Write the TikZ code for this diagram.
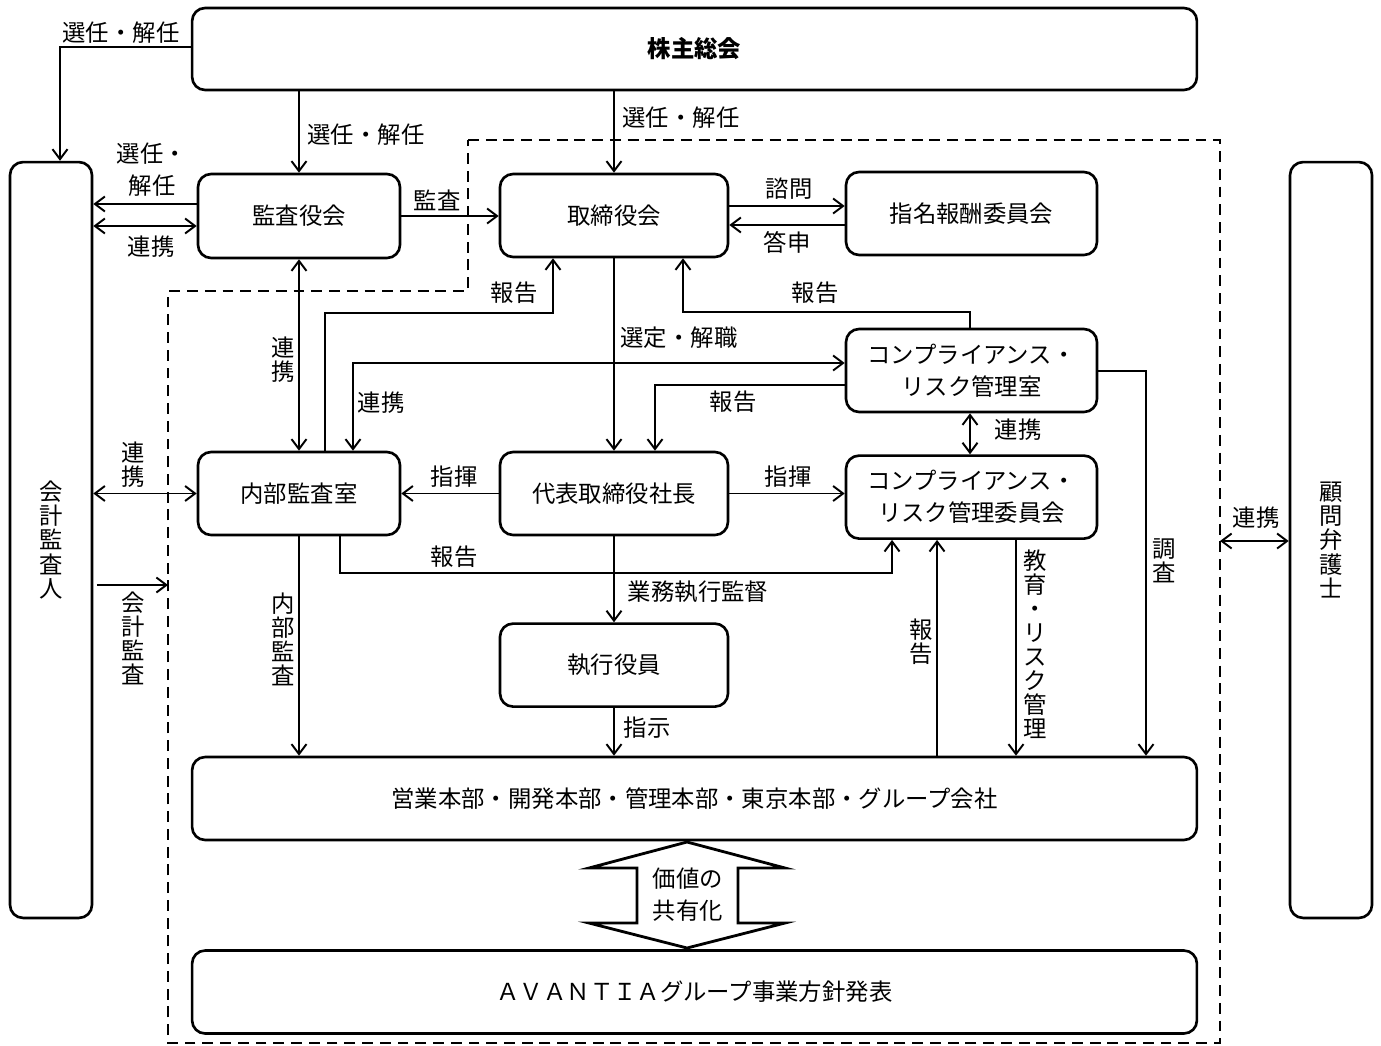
\documentclass[tikz,border=0pt]{standalone}
\usepackage{fontspec}
\newfontfamily\jp{Noto Sans CJK JP}
\usetikzlibrary{arrows.meta}
\usetikzlibrary{positioning}

\newcommand\bxfont{\jp\fontsize{13.3}{18.2}\selectfont}
\newcommand\vtfont{\jp\fontsize{13.3}{13.7}\selectfont}

\tikzset{
  box/.style={rectangle,rounded corners=0.26cm,draw=black,line width=1.5pt,
    font=\bxfont,align=center,inner sep=0pt,minimum height=1.66cm},
  lbl/.style={font=\bxfont,align=center,inner sep=0pt},
  vlbl/.style={font=\vtfont,align=center,inner sep=0pt},
  conn/.style={draw=black,line width=1.1pt},
  bound/.style={draw=black,line width=1.3pt,dash pattern=on 6.2pt off 3.9pt}
}

\begin{document}
\begin{tikzpicture}[x=0.02cm,y=-0.02cm,>={Straight Barb[length=0.2cm,width=0.3cm]}]
\useasboundingbox (0,0) rectangle (1381,1045);

% dashed frame
\draw[bound] (468,140) -- (1220,140) -- (1220,1043) -- (168,1043) -- (168,291) -- (468,291) -- cycle;
\coordinate (bdL) at (168,585);
\coordinate (bdR) at (1220,541);

% boxes
\node[box,font=\jp\bfseries\fontsize{13.3}{18.2}\selectfont,minimum width=20.1cm,minimum height=1.64cm] (soukai) at (694.5,49) {株主総会};
\node[box,font=\vtfont,minimum width=1.64cm,minimum height=15.12cm] (kaikei) at (51,540) {会\\計\\監\\査\\人};
\node[box,font=\vtfont,minimum width=1.64cm,minimum height=15.12cm] (komon) at (1331,540) {顧\\問\\弁\\護\\士};
\node[box,minimum width=4.04cm,minimum height=1.68cm] (kansa) at (299,216) {監査役会};
\node[box,minimum width=4.56cm] (board) at (614,215.5) {取締役会};
\node[box,minimum width=5.02cm] (shimei) at (971.5,213.5) {指名報酬委員会};
\node[box,minimum width=5.02cm] (riskroom) at (971.5,370.5) {コンプライアンス・\\リスク管理室};
\node[box,minimum width=5.02cm,below=0.82cm of riskroom] (riskcom) {コンプライアンス・\\リスク管理委員会};
\node[box,minimum width=4.04cm] (naibu) at (299,493.5) {内部監査室};
\node[box,minimum width=4.56cm] (daihyo) at (614,493.5) {代表取締役社長};
\node[box,minimum width=4.56cm,below=1.72cm of daihyo] (shikko) {執行役員};
\node[box,minimum width=20.1cm] (eigyo) at (694.5,798.5) {営業本部・開発本部・管理本部・東京本部・グループ会社};
\node[box,minimum width=20.1cm] (avantia) at (694.5,992) {ＡＶＡＮＴＩＡグループ事業方針発表};

% connectors
\draw[conn,->] (soukai.west |- 0,47) -| (kaikei.north -| 60,0);
\draw[conn,->] (soukai.south -| kansa.north) -- (kansa.north);
\draw[conn,->] (soukai.south -| board.north) -- (board.north);
\draw[conn,->] (kansa.west |- 0,204) -- (kaikei.east |- 0,204);
\draw[conn,<->] (kaikei.east |- 0,226) -- (kansa.west |- 0,226);
\draw[conn,->] (kansa.east) -- (board.west |- kansa.east);
\draw[conn,<->] (kansa.south) -- (naibu.north);
\draw[conn,->] (board.east |- 0,206) -- (shimei.west |- 0,206);
\draw[conn,->] (shimei.west |- 0,225) -- (board.east |- 0,225);
\draw[conn,->] (naibu.north -| 325,0) |- (553,313) -- (board.south -| 553,0);
\draw[conn,->] (riskroom.north -| 970,0) |- (683,312) -- (board.south -| 683,0);
\draw[conn,->] (board.south) -- (daihyo.north);
\draw[conn,<->] (naibu.north -| 353,0) |- (riskroom.west |- 0,363);
\draw[conn,->] (riskroom.west |- 0,385) -| (daihyo.north -| 655,0);
\draw[conn,<->] (riskroom.south -| 970,0) -- (riskcom.north -| 970,0);
\draw[conn,->] (daihyo.west) -- (naibu.east);
\draw[conn,->] (daihyo.east) -- (riskcom.west |- daihyo.east);
\draw[conn,->] (naibu.south -| 340,0) |- (892,573) -- (riskcom.south -| 892,0);
\draw[conn,->] (daihyo.south) -- (shikko.north);
\draw[conn,->] (naibu.south) -- (eigyo.north -| naibu.south);
\draw[conn,->] (shikko.south) -- (eigyo.north -| shikko.south);
\draw[conn,->] (eigyo.north -| 937,0) -- (riskcom.south -| 937,0);
\draw[conn,->] (riskcom.south -| 1016,0) -- (eigyo.north -| 1016,0);
\draw[conn,->] (riskroom.east |- 0,371) -| (eigyo.north -| 1146,0);
\draw[conn,<->] (kaikei.east |- naibu.west) -- (naibu.west);
\draw[conn,->,shorten <=0.07cm] (kaikei.east |- bdL) -- (bdL);
\draw[conn,<->] (bdR) -- (komon.west |- bdR);

% value sharing arrow
\draw[line width=1.6pt,line join=miter] (687,842) -- (785,868) -- (738,868) -- (738,923) -- (785,923)
  -- (687,948) -- (589,923) -- (637,923) -- (637,868) -- (589,868) -- cycle;
\node[lbl] (kachi) at (688,895) {価値の\\共有化};

% labels
\node[lbl] (l-sen1) at (121,33) {選任・解任};
\node[lbl] (l-sen2) at (366,135) {選任・解任};
\node[lbl] (l-sen3) at (681,118) {選任・解任};
\node[lbl] (l-sen4) at (152,170) {選任・\\解任};
\node[lbl] (l-ren1) at (151,247) {連携};
\node[lbl] (l-kansa) at (437,200) {監査};
\node[vlbl] (l-ren2) at (283,360) {連\\携};
\node[lbl] (l-shimon) at (789,189) {諮問};
\node[lbl] (l-toshin) at (787,242) {答申};
\node[lbl] (l-hou1) at (514,293) {報告};
\node[lbl] (l-hou2) at (815,293) {報告};
\node[lbl] (l-sentei) at (679,338) {選定・解職};
\node[lbl] (l-ren3) at (381,403) {連携};
\node[lbl] (l-hou3) at (733,402) {報告};
\node[lbl] (l-ren4) at (1018,430) {連携};
\node[lbl] (l-shiki1) at (454,477) {指揮};
\node[lbl] (l-shiki2) at (788,477) {指揮};
\node[lbl] (l-hou4) at (454,557) {報告};
\node[lbl] (l-gyomu) at (698,592) {業務執行監督};
\node[vlbl] (l-naibu) at (283,639) {内\\部\\監\\査};
\node[lbl] (l-shiji) at (647,728) {指示};
\node[vlbl] (l-hou5) at (921,642) {報\\告};
\node[vlbl] (l-kyoiku) at (1035,644) {教\\育\\・\\リ\\ス\\ク\\管\\理};
\node[vlbl] (l-chosa) at (1164,561) {調\\査};
\node[vlbl] (l-ren5) at (133,465) {連\\携};
\node[vlbl] (l-kaikei) at (133,638) {会\\計\\監\\査};
\node[lbl] (l-ren6) at (1256,518) {連携};
\end{tikzpicture}
\end{document}
